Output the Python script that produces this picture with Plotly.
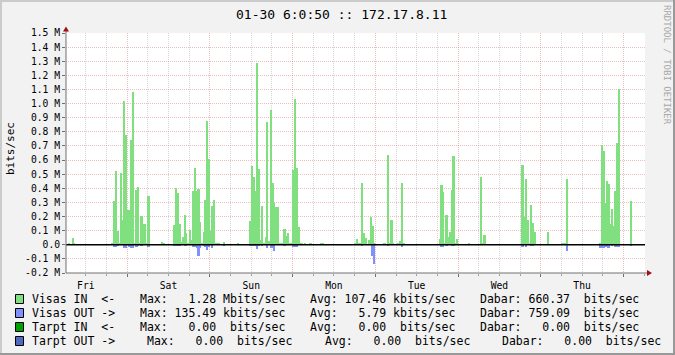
import plotly.graph_objects as go
import pandas as pd

# ---------------- data ----------------
STEP_MIN = 30                      # RRD step (minutes)
ORIGIN = "2004-01-23 00:00"        # slot 0 start
x_range = ["2004-01-23 06:15", "2004-01-30 06:15"]

visas_in_slot = [14, 16, 17,
    39, 40, 41, 42, 43, 44, 45, 46, 47, 48, 49, 50, 51, 52, 53, 54, 55, 56, 57, 58, 59, 60,
    68, 69, 75, 76, 77, 78, 79, 80, 81, 82, 83, 84, 85, 86, 87, 88, 89, 90, 91, 92, 93, 94, 95,
    96, 97, 98, 99, 100, 101, 104, 112,
    119, 120, 121, 122, 123, 124, 125, 126, 127, 128, 129, 130, 131, 132, 133, 134, 135, 136,
    137, 138, 139, 140, 141, 142, 143,
    144, 145, 146, 147, 148, 149, 151, 154, 160, 161,
    180, 181, 182, 183, 184, 185, 186, 188, 189, 190, 191, 197, 199, 200, 201, 202, 205, 206, 207, 208,
    229, 230, 231, 232, 233, 234, 235, 236, 237, 238, 239, 246, 253, 254, 255,
    277, 278, 279, 280, 281, 282, 283, 284, 292, 300, 301, 302, 303,
    322, 323, 324, 325, 326, 327, 328, 329, 330, 331, 332, 333, 340]
visas_in_mbit = [0.014, 0.05, 0.012,
    0.01, 0.313, 0.526, 0.10, 0.01, 0.505, 0.178, 1.017, 0.775, 0.249, 0.249, 0.739, 1.08, 0.01, 0.391, 0.412, 0.01, 0.206, 0.149, 0.149, 0.01, 0.348,
    0.022, 0.01, 0.143, 0.405, 0.37, 0.15, 0.022, 0.058, 0.214, 0.086, 0.01, 0.108, 0.032, 0.384, 0.547, 0.384, 0.398, 0.164, 0.01, 0.093, 0.32, 0.88, 0.604,
    0.10, 0.277, 0.32, 0.01, 0.01, 0.01, 0.022, 0.01,
    0.171, 0.56, 0.483, 0.384, 1.285, 0.54, 0.036, 0.277, 0.01, 0.057, 0.867, 0.03, 0.953, 0.434, 0.299, 0.27, 0.27, 0.01,
    0.01, 0.01, 0.114, 0.065, 0.085, 0.01, 0.01,
    0.533, 1.03, 0.547, 0.129, 0.01, 0.01, 0.01, 0.01, 0.014, 0.014,
    0.01, 0.044, 0.01, 0.01, 0.434, 0.08, 0.045, 0.031, 0.194, 0.13, 0.01, 0.01, 0.633, 0.01, 0.172, 0.01, 0.01, 0.024, 0.441, 0.01,
    0.038, 0.42, 0.371, 0.01, 0.208, 0.052, 0.087, 0.385, 0.626, 0.01, 0.038, 0.01, 0.477, 0.01, 0.066,
    0.562, 0.2, 0.463, 0.172, 0.01, 0.279, 0.151, 0.087, 0.087, 0.01, 0.01, 0.01, 0.463,
    0.01, 0.71, 0.661, 0.293, 0.449, 0.427, 0.144, 0.25, 0.13, 0.378, 0.718, 1.10, 0.307]

visas_out_slot = [40, 41, 42, 46, 47, 49, 50, 51, 53, 54, 56, 60, 75, 76, 77, 78, 81, 82, 86, 87, 88, 89,
    90, 92, 93, 94, 95, 97, 104, 119, 120, 121, 122, 123, 124, 126, 129, 131, 132, 133, 139, 144, 145,
    146, 184, 190, 191, 199, 207, 230, 231, 233, 236, 237, 277, 279, 282, 283, 303, 322, 323, 324, 325,
    326, 327, 329, 331, 332, 333, 340]
visas_out_mbit = [0.019, 0.019, 0.01, 0.026, 0.026, 0.014, 0.024, 0.024, 0.016, 0.01, 0.01, 0.019, 0.01, 0.01,
    0.01, 0.01, 0.01, 0.01, 0.019, 0.019, 0.024, 0.08,
    0.024, 0.01, 0.019, 0.038, 0.014, 0.024, 0.01, 0.01, 0.01, 0.01, 0.01, 0.03, 0.01, 0.01, 0.024, 0.024,
    0.024, 0.045, 0.01, 0.014, 0.014,
    0.014, 0.01, 0.08, 0.1355, 0.01, 0.016, 0.016, 0.016, 0.01, 0.012, 0.012, 0.016, 0.016, 0.01, 0.01,
    0.045, 0.024, 0.024, 0.024, 0.016,
    0.016, 0.024, 0.01, 0.016, 0.016, 0.016, 0.01]

y_tick_mbit = [-0.2, -0.1, 0.0, 0.1, 0.2, 0.3, 0.4, 0.5, 0.6, 0.7, 0.8, 0.9, 1.0, 1.1, 1.2, 1.3, 1.4, 1.5]
y_tick_text = ["-0.2 M", "-0.1 M", "0.0", "0.1 M", "0.2 M", "0.3 M", "0.4 M", "0.5 M", "0.6 M", "0.7 M",
               "0.8 M", "0.9 M", "1.0 M", "1.1 M", "1.2 M", "1.3 M", "1.4 M", "1.5 M"]

title_text = "01-30 6:0:50 :: 172.17.8.11"
y_title = "bits/sec"
watermark = "RRDTOOL / TOBI OETIKER"

legend_names = ["Visas IN  <-", "Visas OUT ->", "Tarpt IN  <-", "Tarpt OUT ->"]
legend_colors = ["#80E080", "#8090FF", "#00A000", "#5068C0"]
legend_max = ["  1.28 Mbits/sec", "135.49 kbits/sec", "  0.00  bits/sec", "  0.00  bits/sec"]
legend_avg = ["107.46 kbits/sec", "  5.79 kbits/sec", "  0.00  bits/sec", "  0.00  bits/sec"]
legend_cur = ["660.37  bits/sec", "759.09  bits/sec", "  0.00  bits/sec", "  0.00  bits/sec"]

# ---------------- layout geometry ----------------
W_PX, H_PX = 675, 355
L, R, T, B = 66, 645, 33, 273
PW, PH = R - L, B - T
MONO = "DejaVu Sans Mono, monospace"
GRID_MAJOR = "rgba(215,110,110,0.45)"
GRID_MINOR = "rgba(150,150,150,0.38)"
AXIS_COL = "#707070"
ARROW_COL = "#A01010"


def px(x):
    return (x - L) / PW


def py(y):
    return (B - y) / PH


def nb(s):
    return s.replace(" ", "\u00a0")


origin = pd.Timestamp(ORIGIN)
step = pd.Timedelta(minutes=STEP_MIN)
in_x = [origin + step * s + step / 2 for s in visas_in_slot]
out_x = [origin + step * s + step / 2 for s in visas_out_slot]

fig = go.Figure()
fig.add_trace(go.Bar(x=in_x, y=[v * 1e6 for v in visas_in_mbit], width=STEP_MIN * 60000,
                     marker=dict(color=legend_colors[0], line=dict(width=0)), hoverinfo="skip"))
fig.add_trace(go.Bar(x=out_x, y=[-v * 1e6 for v in visas_out_mbit], width=STEP_MIN * 60000,
                     marker=dict(color=legend_colors[1], line=dict(width=0)), hoverinfo="skip"))

shapes = []
# zero line
shapes.append(dict(type="line", xref="paper", yref="y", x0=0, x1=1, y0=0, y1=0,
                   line=dict(color="black", width=1.5), layer="above"))
# axis extensions + arrows
shapes.append(dict(type="line", xref="paper", yref="paper", x0=px(66), x1=px(66), y0=py(273), y1=py(30),
                   line=dict(color=AXIS_COL, width=1)))
shapes.append(dict(type="path", xref="paper", yref="paper",
                   path=f"M {px(63)},{py(31.5)} L {px(66)},{py(26.5)} L {px(69)},{py(31.5)} Z",
                   fillcolor=ARROW_COL, line=dict(width=0)))
shapes.append(dict(type="line", xref="paper", yref="paper", x0=px(66), x1=px(648), y0=py(273), y1=py(273),
                   line=dict(color=AXIS_COL, width=1)))
shapes.append(dict(type="path", xref="paper", yref="paper",
                   path=f"M {px(647)},{py(270)} L {px(652)},{py(273)} L {px(647)},{py(276)} Z",
                   fillcolor=ARROW_COL, line=dict(width=0)))
# image frame
shapes.append(dict(type="rect", xref="paper", yref="paper", x0=px(0), x1=px(675), y0=py(0), y1=py(2),
                   fillcolor="#CBCBCB", line=dict(width=0)))
shapes.append(dict(type="rect", xref="paper", yref="paper", x0=px(0), x1=px(2), y0=py(0), y1=py(355),
                   fillcolor="#CBCBCB", line=dict(width=0)))
shapes.append(dict(type="rect", xref="paper", yref="paper", x0=px(0), x1=px(675), y0=py(353), y1=py(355),
                   fillcolor="#999999", line=dict(width=0)))
shapes.append(dict(type="rect", xref="paper", yref="paper", x0=px(673), x1=px(675), y0=py(0), y1=py(355),
                   fillcolor="#999999", line=dict(width=0)))

annotations = []
annotations.append(dict(text=nb(title_text), xref="paper", yref="paper", x=px(341.5), y=py(14),
                        showarrow=False, xanchor="center", yanchor="middle",
                        font=dict(family=MONO, size=13, color="#000000")))
annotations.append(dict(text=y_title, xref="paper", yref="paper", x=px(10.5), y=py(148.5),
                        showarrow=False, textangle=-90, xanchor="center", yanchor="middle",
                        font=dict(family=MONO, size=11, color="#000000")))
annotations.append(dict(text=nb(watermark), xref="paper", yref="paper", x=px(667), y=py(65),
                        showarrow=False, textangle=90, xanchor="center", yanchor="middle",
                        font=dict(family=MONO, size=9, color="#A8A8A8")))

row_y = [299, 313, 327, 341]
col_x = [[138, 308, 478], [138, 308, 478], [138, 308, 478], [145, 322.7, 499.6]]
for i in range(4):
    yy = row_y[i]
    shapes.append(dict(type="rect", xref="paper", yref="paper", x0=px(15.5), x1=px(23.5),
                       y0=py(yy - 4.5), y1=py(yy + 4.5), fillcolor=legend_colors[i],
                       line=dict(color="#000000", width=1)))
    segs = [(30.2, legend_names[i]),
            (col_x[i][0], "Max: " + legend_max[i]),
            (col_x[i][1], "Avg: " + legend_avg[i]),
            (col_x[i][2], "Dabar: " + legend_cur[i])]
    for xx, s in segs:
        annotations.append(dict(text=nb(s), xref="paper", yref="paper", x=px(xx), y=py(yy),
                                showarrow=False, xanchor="left", yanchor="middle",
                                font=dict(family=MONO, size=11.5, color="#000000")))

fig.update_layout(
    width=W_PX, height=H_PX, autosize=False,
    margin=dict(l=L, r=W_PX - R, t=T, b=H_PX - B, pad=0),
    paper_bgcolor="#F2F2F2", plot_bgcolor="#FFFFFF",
    showlegend=False, barmode="overlay", bargap=0,
    shapes=shapes, annotations=annotations,
    xaxis=dict(type="date", range=x_range, dtick=86400000, tick0="2004-01-23 00:00",
               tickformat="%a", ticklabelmode="period",
               showgrid=True, gridcolor=GRID_MAJOR, griddash="1px,1px", gridwidth=1,
               ticks="outside", ticklen=3, tickcolor=AXIS_COL,
               minor=dict(dtick=6 * 3600000, showgrid=True, gridcolor=GRID_MINOR, griddash="1px,1px",
                          ticks="outside", ticklen=2, tickcolor="#A0A0A0"),
               showline=False, zeroline=False,
               tickfont=dict(family=MONO, size=9.7, color="#000000")),
    yaxis=dict(range=[-0.2e6, 1.5e6], tickvals=[v * 1e6 for v in y_tick_mbit], ticktext=y_tick_text,
               showgrid=True, gridcolor=GRID_MAJOR, griddash="1px,1px", gridwidth=1,
               ticks="outside", ticklen=3, tickcolor=AXIS_COL,
               showline=False, zeroline=False,
               tickfont=dict(family=MONO, size=9.7, color="#000000")),
)

fig.write_html("out.html")
